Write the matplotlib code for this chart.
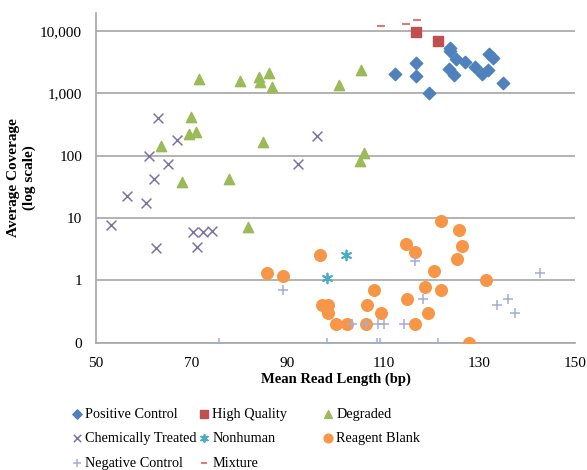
import matplotlib
matplotlib.use('Agg')
import matplotlib.pyplot as plt
from matplotlib.ticker import FixedLocator, FixedFormatter

plt.rcParams['font.family'] = ['Liberation Serif', 'DejaVu Serif']

# data (x = mean read length, y = average coverage)
pos_x = [112.4, 116.9, 116.9, 119.5, 123.8, 124.0, 125.2, 127.1, 129.1, 123.6, 124.7, 130.6, 131.8, 132.0, 132.9, 134.9]
pos_y = [2055, 3055, 1920, 1010, 5310, 4860, 3540, 3240, 2690, 2470, 1960, 2055, 2380, 4300, 3670, 1460]

hq_x = [116.7, 121.3]
hq_y = [9600, 6970]

deg_x = [71.6, 80.1, 84.1, 86.2, 84.2, 86.7, 69.8, 69.4, 70.9, 63.6, 84.9, 67.9, 77.8, 81.7, 100.8, 105.3, 106.0, 105.1]
deg_y = [1710, 1590, 1860, 2160, 1550, 1290, 425, 221, 244, 145, 168, 38, 42.5, 7.3, 1370, 2380, 110, 83]

chem_x = [63.0, 61.1, 67.0, 65.1, 62.1, 56.4, 60.4, 53.1, 70.3, 72.3, 74.2, 62.5, 71.1, 96.2, 92.2]
chem_y = [400, 100, 180, 74, 42.5, 22.9, 17.3, 7.65, 5.9, 6.05, 6.3, 3.35, 3.47, 208, 74]

nonhuman_x = [102.1, 98.2]
nonhuman_y = [2.56, 1.09]

blank_x = [85.6, 89.0, 96.8, 97.1, 98.5, 98.4, 100.2, 102.5, 106.3, 106.5, 108.0, 109.5, 114.8, 116.5,
           114.9, 116.6, 118.7, 119.4, 120.6, 122.1, 122.1, 125.8, 126.5, 125.3, 131.4, 127.9]
blank_y = [1.30, 1.19, 2.58, 0.40, 0.40, 0.30, 0.20, 0.20, 0.20, 0.40, 0.70, 0.30, 3.79, 2.82,
           0.50, 0.20, 0.79, 0.30, 1.42, 9.08, 0.69, 6.44, 3.60, 2.18, 1.01, 0.10]

neg_x = [89.0, 75.7, 98.2, 103.4, 106.3, 108.8, 110.1, 108.7, 109.3, 114.3, 116.5, 118.2, 121.3, 133.8, 136.1, 137.5, 142.6]
neg_y = [0.70, 0.10, 0.10, 0.20, 0.20, 0.20, 0.20, 0.10, 0.10, 0.20, 2.05, 0.50, 0.10, 0.40, 0.50, 0.30, 1.30]

mix_x = [109.6, 114.8, 117.0]
mix_y = [12250, 12900, 15300]

fig = plt.figure(figsize=(5.87, 4.70), dpi=100)
ax = fig.add_axes([0.1635, 0.2709, 0.8161, 0.7014])

h_pos = ax.scatter(pos_x, pos_y, marker='D', s=40, color='#4F81BD', label='Positive Control', zorder=3)
h_hq = ax.scatter(hq_x, hq_y, marker='s', s=60, color='#C0504D', label='High Quality', zorder=3)
h_deg = ax.scatter(deg_x, deg_y, marker='^', s=55, color='#9BBB59', label='Degraded', zorder=3)
h_chem = ax.scatter(chem_x, chem_y, marker='x', s=50, color='#7F72A8', linewidths=1.1, label='Chemically Treated', zorder=3)
h_nh = ax.scatter(nonhuman_x, nonhuman_y, marker=(6, 2, 0), s=50, color='#4BACC6', linewidths=1.3, label='Nonhuman', zorder=3)
h_rb = ax.scatter(blank_x, blank_y, marker='o', s=70, color='#F79646', label='Reagent Blank', zorder=3)
h_neg = ax.scatter(neg_x, neg_y, marker='+', s=60, color='#A3AED6', linewidths=1.1, label='Negative Control', zorder=4)
h_mix = ax.scatter(mix_x, mix_y, marker='_', s=30, color='#E07B7B', linewidths=1.5, label='Mixture', zorder=3)

ax.set_yscale('log')
ax.set_xlim(50, 150)
ax.set_ylim(0.1, 10 ** 4.29)
ax.set_xticks([50, 70, 90, 110, 130, 150])
ax.yaxis.set_major_locator(FixedLocator([0.1, 1, 10, 100, 1000, 10000]))
ax.yaxis.set_major_formatter(FixedFormatter(['0', '1', '10', '100', '1,000', '10,000']))
ax.yaxis.set_minor_locator(FixedLocator([]))
ax.tick_params(length=0, labelsize=11)
ax.tick_params(axis='x', pad=10)
ax.tick_params(axis='y', pad=10)
ax.grid(axis='y', color='#A6A6A6', linewidth=1.2)
ax.set_axisbelow(True)
for s in ['top', 'right']:
    ax.spines[s].set_visible(False)
for s in ['left', 'bottom']:
    ax.spines[s].set_color('#A6A6A6')
    ax.spines[s].set_linewidth(1.2)

ax.set_xlabel('Mean Read Length (bp)', fontsize=10.5, fontweight='bold', labelpad=2)
ax.set_ylabel('Average Coverage\n(log scale)', fontsize=11, fontweight='bold', labelpad=3)

# Excel-style legend: three equal-width columns below the plot
columns = [[h_pos, h_chem, h_neg], [h_hq, h_nh, h_mix], [h_deg, h_rb]]
col_x = [0.1063, 0.3225, 0.5339]
for hs, x0 in zip(columns, col_x):
    leg = fig.legend(handles=hs, labels=[h.get_label() for h in hs], ncol=1,
                     loc='upper left', bbox_to_anchor=(x0, 0.145), frameon=False,
                     fontsize=10.3, handletextpad=0.0, labelspacing=0.8,
                     borderaxespad=0, markerscale=0.75, handlelength=1.2)

plt.savefig('out.png', dpi=100)
